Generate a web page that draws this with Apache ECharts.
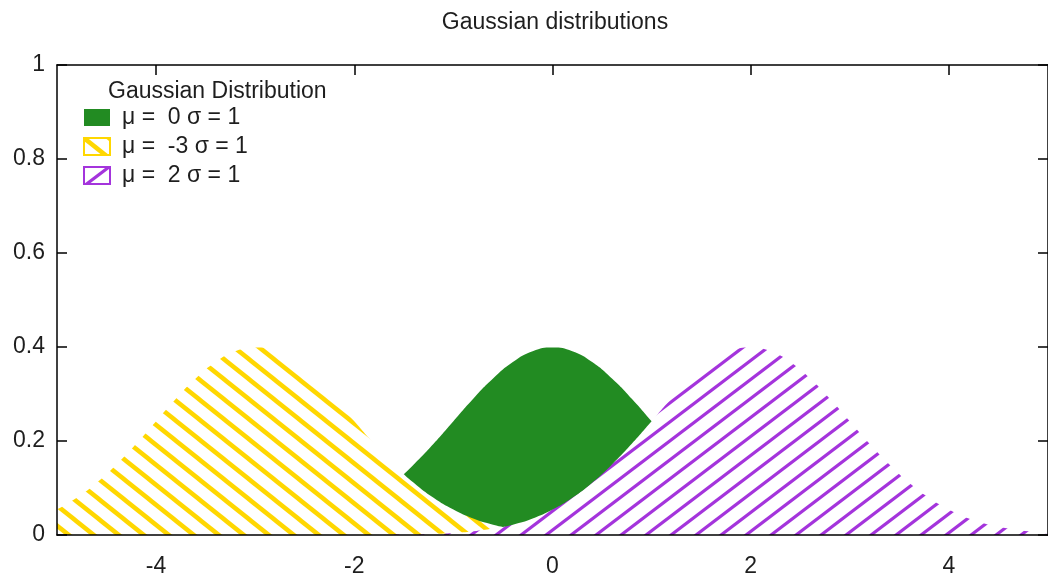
<!DOCTYPE html>
<html>
<head>
<meta charset="utf-8">
<script src="https://cdn.jsdelivr.net/npm/echarts@6/dist/echarts.min.js"></script>
<style>
  html, body { margin: 0; padding: 0; background: #ffffff; }
  #chart { width: 1048px; height: 580px; }
</style>
</head>
<body>
<div id="chart"></div>
<script>
// Labels
const chartTitle = 'Gaussian distributions';
const legendTitle = 'Gaussian Distribution';
const seriesNames = ['μ =  0 σ = 1', 'μ =  -3 σ = 1', 'μ =  2 σ = 1'];

// Axis ticks
const xTicks = [-4, -2, 0, 2, 4];
const yTicks = [0, 0.2, 0.4, 0.6, 0.8, 1];

// Sample positions along x
const xValues = [
  -5.0, -4.8, -4.6, -4.4, -4.2, -4.0, -3.8, -3.6, -3.4, -3.2,
  -3.0, -2.8, -2.6, -2.4, -2.2, -2.0, -1.8, -1.6, -1.4, -1.2,
  -1.0, -0.8, -0.6, -0.4, -0.2, 0.0, 0.2, 0.4, 0.6, 0.8,
  1.0, 1.2, 1.4, 1.6, 1.8, 2.0, 2.2, 2.4, 2.6, 2.8,
  3.0, 3.2, 3.4, 3.6, 3.8, 4.0, 4.2, 4.4, 4.6, 4.8, 5.0
];

// Density, mu = 0
const densityMu0 = [
  0, 0, 0, 0, 0, 0, 0, 0.001, 0.001, 0.002,
  0.004, 0.008, 0.014, 0.022, 0.035, 0.054, 0.079, 0.111, 0.150, 0.194,
  0.242, 0.290, 0.333, 0.368, 0.391, 0.399, 0.391, 0.368, 0.333, 0.290,
  0.242, 0.194, 0.150, 0.111, 0.079, 0.054, 0.035, 0.022, 0.014, 0.008,
  0.004, 0.002, 0.001, 0.001, 0, 0, 0, 0, 0, 0, 0
];

// Density, mu = -3
const densityMuMinus3 = [
  0.054, 0.079, 0.111, 0.150, 0.194, 0.242, 0.290, 0.333, 0.368, 0.391,
  0.399, 0.391, 0.368, 0.333, 0.290, 0.242, 0.194, 0.150, 0.111, 0.079,
  0.054, 0.035, 0.022, 0.014, 0.008, 0.004, 0.002, 0.001, 0.001, 0,
  0, 0, 0, 0, 0, 0, 0, 0, 0, 0,
  0, 0, 0, 0, 0, 0, 0, 0, 0, 0, 0
];

// Density, mu = 2
const densityMu2 = [
  0, 0, 0, 0, 0, 0, 0, 0, 0, 0,
  0, 0, 0, 0, 0, 0, 0, 0.001, 0.001, 0.002,
  0.004, 0.008, 0.014, 0.022, 0.035, 0.054, 0.079, 0.111, 0.150, 0.194,
  0.242, 0.290, 0.333, 0.368, 0.391, 0.399, 0.391, 0.368, 0.333, 0.290,
  0.242, 0.194, 0.150, 0.111, 0.079, 0.054, 0.035, 0.022, 0.014, 0.008, 0.004
];

const GREEN = '#228b22';
const GOLD = '#ffd700';
const VIOLET = '#a434dc';
const FONT = "'Liberation Sans', Arial, Helvetica, sans-serif";
const TEXT = '#1e1e1e';
const FS = 23;

// Opaque diagonal line hatching as a repeating canvas tile
function hatch(color, w, h, lineWidth, descending) {
  const c = document.createElement('canvas');
  c.width = w; c.height = h;
  const g = c.getContext('2d');
  g.fillStyle = '#ffffff';
  g.fillRect(0, 0, w, h);
  g.strokeStyle = color;
  g.lineWidth = lineWidth;
  for (const dx of [-w, 0, w]) {
    g.beginPath();
    if (descending) {
      g.moveTo(dx - w, -h); g.lineTo(dx + 2 * w, 2 * h);
    } else {
      g.moveTo(dx - w, 2 * h); g.lineTo(dx + 2 * w, -h);
    }
    g.stroke();
  }
  return { image: c, repeat: 'repeat' };
}

const goldHatch = hatch(GOLD, 25, 20, 4.5, true);
const violetHatch = hatch(VIOLET, 25, 19, 3.2, false);

const pairs = ys => xValues.map((x, i) => [x, ys[i]]);

const chart = echarts.init(document.getElementById('chart'), null, { renderer: 'canvas' });

const axisLine = { show: true, onZero: false, lineStyle: { color: '#000', width: 1.5 } };
const innerTick = { show: true, inside: true, length: 10, lineStyle: { color: '#000', width: 1.5 } };

chart.setOption({
  animation: false,
  backgroundColor: '#ffffff',
  textStyle: { fontFamily: FONT },
  title: [
    {
      text: chartTitle,
      left: 555, top: 11, textAlign: 'center', padding: 0,
      textStyle: { fontFamily: FONT, fontSize: FS, fontWeight: 'normal', color: TEXT }
    },
    {
      text: legendTitle,
      left: 108, top: 80, padding: 0,
      textStyle: { fontFamily: FONT, fontSize: FS, fontWeight: 'normal', color: TEXT }
    }
  ],
  legend: {
    orient: 'vertical',
    left: 83, top: 106,
    padding: 0,
    icon: 'rect',
    itemWidth: 26, itemHeight: 17,
    itemGap: 6,
    selectedMode: false,
    textStyle: { fontFamily: FONT, fontSize: FS, color: TEXT, padding: [0, 0, 0, 7] },
    data: [
      { name: seriesNames[0], itemStyle: { color: GREEN, borderWidth: 0 } },
      { name: seriesNames[1], itemStyle: { color: goldHatch, borderColor: GOLD, borderWidth: 2 } },
      { name: seriesNames[2], itemStyle: { color: violetHatch, borderColor: VIOLET, borderWidth: 2 } }
    ]
  },
  grid: { left: 57, top: 65, width: 994, height: 470, containLabel: false },
  xAxis: [
    {
      type: 'value', position: 'bottom', min: -5, max: 5, z: 10,
      axisLine: axisLine,
      axisTick: { show: false },
      splitLine: { show: false },
      axisLabel: {
        customValues: xTicks, margin: 20,
        fontFamily: FONT, fontSize: FS, color: TEXT
      }
    },
    {
      type: 'value', position: 'top', min: -5, max: 5, z: 10,
      axisLine: axisLine,
      axisTick: Object.assign({ customValues: xTicks }, innerTick),
      axisLabel: { show: false },
      splitLine: { show: false }
    }
  ],
  yAxis: [
    {
      type: 'value', position: 'left', min: 0, max: 1, z: 10,
      axisLine: axisLine,
      axisTick: Object.assign({ customValues: yTicks }, innerTick),
      splitLine: { show: false },
      axisLabel: {
        customValues: yTicks, margin: 12,
        fontFamily: FONT, fontSize: FS, color: TEXT
      }
    },
    {
      type: 'value', position: 'right', min: 0, max: 1, z: 10,
      axisLine: axisLine,
      axisTick: Object.assign({ customValues: yTicks }, innerTick),
      axisLabel: { show: false },
      splitLine: { show: false }
    }
  ],
  series: [
    {
      name: seriesNames[0], type: 'line', data: pairs(densityMu0),
      smooth: true, showSymbol: false, symbol: 'none',
      lineStyle: { width: 0 },
      itemStyle: { color: GREEN },
      areaStyle: { color: GREEN, opacity: 1 }
    },
    {
      name: seriesNames[1], type: 'line', data: pairs(densityMuMinus3),
      smooth: true, showSymbol: false, symbol: 'none',
      lineStyle: { width: 0 },
      itemStyle: { color: GOLD },
      areaStyle: { color: goldHatch, opacity: 1 }
    },
    {
      name: seriesNames[2], type: 'line', data: pairs(densityMu2),
      smooth: true, showSymbol: false, symbol: 'none',
      lineStyle: { width: 0 },
      itemStyle: { color: VIOLET },
      areaStyle: { color: violetHatch, opacity: 1 }
    }
  ]
});
</script>
</body>
</html>
